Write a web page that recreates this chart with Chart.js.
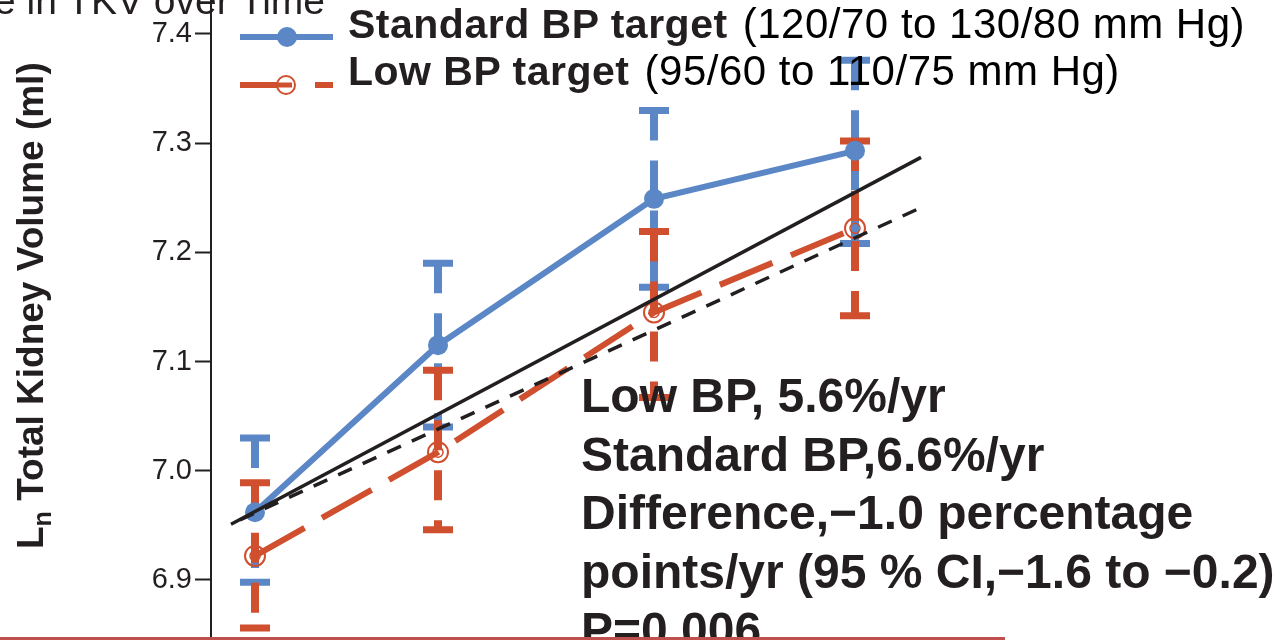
<!DOCTYPE html>
<html><head><meta charset="utf-8">
<script src="https://cdn.jsdelivr.net/npm/chart.js@4.4.1/dist/chart.umd.min.js"></script>
<style>
html,body{margin:0;padding:0;background:#fff;overflow:hidden}
#wrap{position:relative;width:1285px;height:640px;overflow:hidden;background:#fff}
#c{position:absolute;left:0;top:0}
.t{position:absolute;white-space:nowrap;color:#231f20;font-family:"Liberation Sans",Arial,Helvetica,sans-serif;z-index:2}
.n{font-size:42px;letter-spacing:0.5px;margin-left:3px;color:#000}
</style></head><body>
<div id="wrap">
<canvas id="c" width="1285" height="640"></canvas>
<div class="t" style="right:960px;top:-19px;font-size:39px;line-height:39px">Change in TKV over Time</div>
<div class="t" id="ytitle" style="left:0;top:0;font-size:37px;line-height:37px;font-weight:bold;transform-origin:0 0;transform:translate(12px,549px) rotate(-90deg)">L<span style="font-size:25px;position:relative;top:8px">n</span> Total Kidney Volume (ml)</div>
<div class="t" style="left:348px;top:3px;font-size:41px;line-height:41px;letter-spacing:0.5px"><b>Standard BP target</b><span class="n"> (120/70 to 130/80 mm Hg)</span></div>
<div class="t" style="left:348px;top:50px;font-size:41px;line-height:41px;letter-spacing:0.5px"><b>Low BP target</b><span class="n"> (95/60 to 110/75 mm Hg)</span></div>
<div class="t" style="left:581px;top:367px;font-size:48px;line-height:58.5px;font-weight:bold">Low BP, 5.6%/yr<br>Standard BP,6.6%/yr<br>Difference,−1.0 percentage<br>points/yr (95 % CI,−1.6 to −0.2)<br>P=0.006</div>
<div style="position:absolute;left:0;top:637px;width:1005px;height:3px;background:#c0504d;z-index:3"></div>
</div>
<script>
// ---- data ----
const timeX    = [0, 0.915, 1.995, 3.0];
const stdMean  = [6.962, 7.115, 7.249, 7.293];
const stdLower = [6.898, 7.040, 7.168, 7.208];
const stdUpper = [7.030, 7.190, 7.330, 7.376];
const lowMean  = [6.922, 7.017, 7.145, 7.222];
const lowLower = [6.856, 6.946, 7.067, 7.142];
const lowUpper = [6.989, 7.092, 7.219, 7.302];
const stdFitX  = [-0.12, 3.33];
const stdFitY  = [6.951, 7.287];
const lowFitX  = [-0.075, 3.33];
const lowFitY  = [6.955, 7.241];
const yTicks   = [6.9, 7.0, 7.1, 7.2, 7.3, 7.4];

const BLUE = '#5b87c6', RED = '#cf4f2e', INK = '#231f20';
const FONT = '"Liberation Sans", Arial, Helvetica, sans-serif';
const yMax = 7.4311, yMin = 6.8450, xMin = -0.22, xMax = 5.15;

const pts = (xs, ys) => xs.map((x, i) => ({x, y: ys[i]}));

const errorBars = {
  id: 'errorBars',
  beforeDatasetsDraw(chart) {
    const {ctx, scales: {x, y}} = chart;
    const draw = (lo, hi, color) => {
      ctx.save();
      ctx.strokeStyle = color;
      timeX.forEach((t, i) => {
        const px = x.getPixelForValue(t);
        const y1 = y.getPixelForValue(hi[i]);
        const y2 = y.getPixelForValue(lo[i]);
        ctx.lineWidth = 8;
        ctx.setLineDash([30, 20]);
        ctx.beginPath(); ctx.moveTo(px, y1); ctx.lineTo(px, y2); ctx.stroke();
        ctx.setLineDash([]);
        ctx.lineWidth = 7;
        ctx.beginPath();
        ctx.moveTo(px - 15, y1); ctx.lineTo(px + 15, y1);
        ctx.moveTo(px - 15, y2); ctx.lineTo(px + 15, y2);
        ctx.stroke();
      });
      ctx.restore();
    };
    draw(stdLower, stdUpper, BLUE);
    draw(lowLower, lowUpper, RED);
  }
};

const innerRing = {
  id: 'innerRing',
  afterDatasetsDraw(chart) {
    const meta = chart.getDatasetMeta(3);
    const ctx = chart.ctx;
    ctx.save();
    ctx.strokeStyle = RED; ctx.lineWidth = 1.5;
    meta.data.forEach(p => { ctx.beginPath(); ctx.arc(p.x, p.y, 5, 0, Math.PI * 2); ctx.stroke(); });
    ctx.restore();
  }
};

const legendSamples = {
  id: 'legendSamples',
  afterDraw(chart) {
    const ctx = chart.ctx;
    ctx.save();
    ctx.lineWidth = 6;
    ctx.strokeStyle = BLUE; ctx.fillStyle = BLUE;
    ctx.beginPath(); ctx.moveTo(240, 37); ctx.lineTo(333, 37); ctx.stroke();
    ctx.beginPath(); ctx.arc(287, 37, 10, 0, Math.PI * 2); ctx.fill();
    ctx.strokeStyle = RED;
    ctx.beginPath(); ctx.moveTo(240, 85); ctx.lineTo(280, 85); ctx.moveTo(315, 85); ctx.lineTo(333, 85); ctx.stroke();
    ctx.fillStyle = '#fff';
    ctx.lineWidth = 2;
    ctx.beginPath(); ctx.arc(286, 85, 9, 0, Math.PI * 2); ctx.fill(); ctx.stroke();
    ctx.beginPath(); ctx.moveTo(277, 85); ctx.lineTo(292, 85); ctx.lineWidth = 5; ctx.stroke();
    ctx.restore();
  }
};

new Chart(document.getElementById('c'), {
  type: 'line',
  data: {
    datasets: [
      {data: pts(stdFitX, stdFitY), borderColor: INK, borderWidth: 3.5, pointRadius: 0, fill: false},
      {data: pts(lowFitX, lowFitY), borderColor: INK, borderWidth: 3.5, borderDash: [15, 12], pointRadius: 0, fill: false},
      {data: pts(timeX, stdMean), borderColor: BLUE, borderWidth: 6, pointRadius: 10, pointBackgroundColor: BLUE, pointBorderColor: BLUE, pointBorderWidth: 0, fill: false},
      {data: pts(timeX, lowMean), borderColor: RED, borderWidth: 6, borderDash: [57, 20], pointRadius: 10, pointBackgroundColor: 'rgba(255,255,255,0)', pointBorderColor: RED, pointBorderWidth: 2, fill: false}
    ]
  },
  options: {
    responsive: false, animation: false, events: [],
    layout: {padding: 0, autoPadding: false},
    plugins: {legend: {display: false}, tooltip: {enabled: false}},
    scales: {
      x: {type: 'linear', display: false, min: xMin, max: xMax},
      y: {
        type: 'linear', position: 'left', min: yMin, max: yMax,
        afterBuildTicks(s) { s.ticks = yTicks.map(v => ({value: v})); },
        afterFit(s) { s.width = 211; s.paddingTop = 0; s.paddingBottom = 0; },
        ticks: {callback: v => Number(v).toFixed(1), font: {family: FONT, size: 29}, color: INK, padding: 3},
        grid: {drawOnChartArea: false, drawTicks: true, tickLength: 16, tickWidth: 2, tickColor: INK},
        border: {display: true, color: INK, width: 2}
      }
    }
  },
  plugins: [errorBars, innerRing, legendSamples]
});
</script>
</body></html>
